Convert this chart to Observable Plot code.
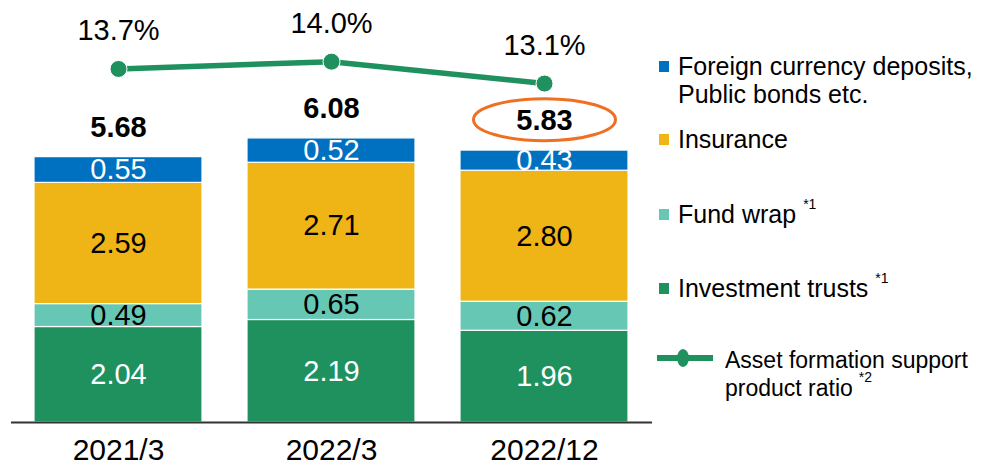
<!DOCTYPE html>
<html>
<head>
<meta charset="utf-8">
<script src="https://cdn.jsdelivr.net/npm/d3@7"></script>
<script src="https://cdn.jsdelivr.net/npm/@observablehq/plot@0.6"></script>
<style>
  html, body { margin: 0; padding: 0; background: #fff; }
  #chart { width: 982px; height: 464px; }
  svg { font-family: "Liberation Sans", Arial, sans-serif; }
</style>
</head>
<body>
<div id="chart"></div>
<script>
// ---- data ----
const periods = ["2021/3", "2022/3", "2022/12"];
const seriesNames = ["Investment trusts", "Fund wrap", "Insurance", "Foreign currency deposits, Public bonds etc."];
const investmentTrusts = [2.04, 2.19, 1.96];
const fundWrap = [0.49, 0.65, 0.62];
const insurance = [2.59, 2.71, 2.80];
const foreignBonds = [0.55, 0.52, 0.43];
const totals = [5.68, 6.08, 5.83];
const ratioPct = [13.7, 14.0, 13.1];
const highlightPeriod = "2022/12";
const seriesColors = ["#1f915f", "#66c8b4", "#efb416", "#0070c0"];
const labelColors = ["white", "black", "black", "white"];
const ratioColor = "#1f915f";
const highlightColor = "#f07022";

const seriesValues = [investmentTrusts, fundWrap, insurance, foreignBonds];
const rows = [];
seriesNames.forEach((s, k) => {
  periods.forEach((p, i) => {
    rows.push({period: p, series: s, value: seriesValues[k][i], color: seriesColors[k], textColor: labelColors[k]});
  });
});
const totalRows = periods.map((p, i) => ({period: p, total: totals[i]}));
// secondary axis for the percentage line mapped onto the primary y scale
const pctToY = d3.scaleLinear([13, 14], [7.19, 7.71]);
const ratioRows = periods.map((p, i) => ({period: p, pct: ratioPct[i], yv: pctToY(ratioPct[i])}));

const ellipseSymbol = {
  draw(ctx) {
    const rx = 71, ry = 21, k = 0.5523;
    ctx.moveTo(rx, 0);
    ctx.bezierCurveTo(rx, ry * k, rx * k, ry, 0, ry);
    ctx.bezierCurveTo(-rx * k, ry, -rx, ry * k, -rx, 0);
    ctx.bezierCurveTo(-rx, -ry * k, -rx * k, -ry, 0, -ry);
    ctx.bezierCurveTo(rx * k, -ry, rx, -ry * k, rx, 0);
    ctx.closePath();
  }
};

const plot = Plot.plot({
  width: 982,
  height: 464,
  marginLeft: 11,
  marginRight: 330,
  marginTop: 0,
  marginBottom: 42,
  style: {fontFamily: "'Liberation Sans', Arial, sans-serif", fontSize: "30px", color: "black", background: "white"},
  x: {domain: periods, paddingInner: 0.21, paddingOuter: 0.105, tickSize: 0, tickPadding: 16, label: null},
  y: {domain: [0, 9.017], axis: null},
  color: {type: "identity"},
  marks: [
    Plot.barY(rows, {x: "period", y: "value", z: "series", fill: "color", stroke: "white", strokeWidth: 1.2}),
    Plot.text(rows, Plot.stackY({x: "period", y: "value", z: "series", text: d => d.value.toFixed(2), fill: "textColor", fontSize: 29})),
    Plot.ruleY([0], {stroke: "#333", strokeWidth: 2}),
    Plot.text(totalRows, {x: "period", y: "total", text: d => d.total.toFixed(2), dy: -29, fontSize: 29, fontWeight: "bold", fill: "black"}),
    Plot.dot(totalRows.filter(d => d.period === highlightPeriod), {x: "period", y: "total", dy: -30, symbol: ellipseSymbol, stroke: highlightColor, strokeWidth: 3, fill: "none"}),
    Plot.line(ratioRows, {x: "period", y: "yv", stroke: ratioColor, strokeWidth: 5.5}),
    Plot.dot(ratioRows, {x: "period", y: "yv", r: 8.5, fill: ratioColor, stroke: "white", strokeWidth: 1}),
    Plot.text(ratioRows, {x: "period", y: "yv", text: d => d.pct.toFixed(1) + "%", dy: -38, fontSize: 29, fill: "black"})
  ]
});
document.getElementById("chart").appendChild(plot);

// ---- legend ----
const legendItems = [
  {lines: ["Foreign currency deposits,", "Public bonds etc."], color: seriesColors[3], baseline: 75, sup: null},
  {lines: ["Insurance"], color: seriesColors[2], baseline: 148, sup: null},
  {lines: ["Fund wrap"], color: seriesColors[1], baseline: 223, sup: "*1"},
  {lines: ["Investment trusts"], color: seriesColors[0], baseline: 297, sup: "*1"}
];
const lineLegend = {lines: ["Asset formation support", "product ratio"], baseline: 368, sup: "*2"};

const svg = d3.select(plot.tagName.toLowerCase() === "svg" ? plot : plot.querySelector("svg"));
const lg = svg.append("g")
  .attr("font-family", "'Liberation Sans', Arial, sans-serif")
  .attr("text-anchor", "start")
  .attr("fill", "black");
legendItems.forEach(it => {
  lg.append("rect").attr("x", 659).attr("y", it.baseline - 14).attr("width", 10).attr("height", 11).attr("fill", it.color);
  it.lines.forEach((ln, j) => {
    const t = lg.append("text").attr("text-anchor", "start").attr("x", 678).attr("y", it.baseline + j * 28).attr("font-size", 25).text(ln);
    if (it.sup && j === it.lines.length - 1) {
      t.append("tspan").attr("font-size", 14).attr("dx", 7).attr("dy", -14).text(it.sup);
    }
  });
});
lg.append("line").attr("x1", 657).attr("x2", 713).attr("y1", 358).attr("y2", 358).attr("stroke", ratioColor).attr("stroke-width", 6);
lg.append("ellipse").attr("cx", 683).attr("cy", 358).attr("rx", 6).attr("ry", 9).attr("fill", ratioColor);
lineLegend.lines.forEach((ln, j) => {
  const t = lg.append("text").attr("text-anchor", "start").attr("x", 725).attr("y", lineLegend.baseline + j * 28).attr("font-size", 23).text(ln);
  if (j === lineLegend.lines.length - 1) {
    t.append("tspan").attr("font-size", 14).attr("dx", 6).attr("dy", -14).text(lineLegend.sup);
  }
});
</script>
</body>
</html>
